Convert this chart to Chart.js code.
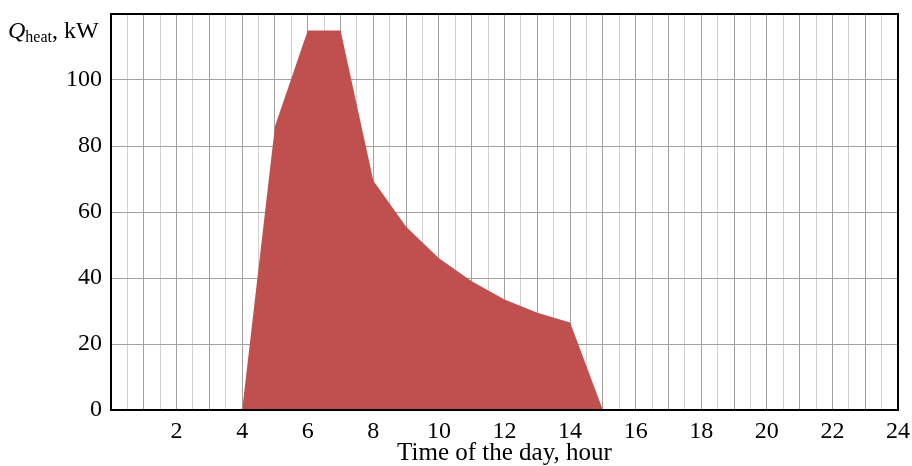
<!DOCTYPE html>
<html>
<head>
<meta charset="utf-8">
<script src="https://cdn.jsdelivr.net/npm/chart.js@4/dist/chart.umd.min.js"></script>
<style>
html,body{margin:0;padding:0;background:#fff;}
#wrap{width:912px;height:466px;position:relative;}
</style>
</head>
<body>
<div id="wrap"><canvas id="c" width="912" height="466"></canvas></div>
<script>
// Data
const hours = [4, 5, 6, 7, 8, 9, 10, 11, 12, 13, 14, 15];
const qHeat = [0, 86, 115, 115, 69.5, 55.5, 46, 39, 33.5, 29.5, 26.5, 0];
const xTickLabels = [2, 4, 6, 8, 10, 12, 14, 16, 18, 20, 22, 24];
const yTickLabels = [0, 20, 40, 60, 80, 100];
const xTitle = 'Time of the day, hour';
const yTitleMain = 'Q';
const yTitleSub = 'heat';
const yTitleUnit = ', kW';

const FONT = '"Liberation Serif", "Times New Roman", serif';

const frame = {
  id: 'frame',
  afterDraw(chart) {
    const {ctx, chartArea: a} = chart;
    ctx.save();
    ctx.strokeStyle = '#000';
    ctx.lineWidth = 2;
    ctx.strokeRect(a.left, a.top, a.right - a.left, a.bottom - a.top);
    // y axis title with italic Q and subscript
    ctx.fillStyle = '#000';
    ctx.textBaseline = 'alphabetic';
    ctx.textAlign = 'left';
    let x = 8;
    ctx.font = 'italic 24px ' + FONT;
    ctx.fillText(yTitleMain, x, 38);
    x += ctx.measureText(yTitleMain).width;
    ctx.font = '16px ' + FONT;
    ctx.fillText(yTitleSub, x, 42);
    x += ctx.measureText(yTitleSub).width;
    ctx.font = '24px ' + FONT;
    ctx.fillText(yTitleUnit, x, 38);
    ctx.restore();
  }
};

new Chart(document.getElementById('c'), {
  type: 'line',
  data: {
    datasets: [{
      data: hours.map((h, i) => ({x: h, y: qHeat[i]})),
      fill: 'origin',
      backgroundColor: '#C0504D',
      borderWidth: 0,
      borderColor: 'rgba(0,0,0,0)',
      pointRadius: 0,
      tension: 0
    }]
  },
  options: {
    responsive: false,
    animation: false,
    events: [],
    layout: {padding: {top: 14, right: 14, left: 0, bottom: 0}},
    plugins: {legend: {display: false}, tooltip: {enabled: false}},
    scales: {
      x: {
        type: 'linear',
        min: 0, max: 24,
        afterFit(s) { s.height = 56; s.paddingLeft = 0; s.paddingRight = 0; },
        afterBuildTicks(s) {
          const t = [];
          for (let v = 0; v <= 48; v++) t.push({value: v / 2});
          s.ticks = t;
        },
        ticks: {
          autoSkip: false,
          maxRotation: 0,
          padding: 7,
          color: '#000',
          font: {family: FONT, size: 24},
          callback(v) { return xTickLabels.includes(v) ? String(v) : ''; }
        },
        grid: {
          drawTicks: false,
          lineWidth: 1,
          color(c) { return Number.isInteger(c.tick.value) ? '#a0a0a0' : '#d0d0d0'; }
        },
        border: {display: false},
        title: {
          display: true,
          text: xTitle,
          color: '#000',
          font: {family: FONT, size: 25},
          padding: {top: 0, bottom: -2}
        }
      },
      y: {
        min: 0, max: 120,
        afterFit(s) { s.width = 111; s.paddingTop = 0; s.paddingBottom = 0; },
        ticks: {
          stepSize: 20,
          padding: 9,
          color: '#000',
          font: {family: FONT, size: 24},
          callback(v) { return yTickLabels.includes(v) ? String(v) : ''; }
        },
        grid: {drawTicks: false, color: '#a0a0a0', lineWidth: 1},
        border: {display: false}
      }
    }
  },
  plugins: [frame]
});
</script>
</body>
</html>
